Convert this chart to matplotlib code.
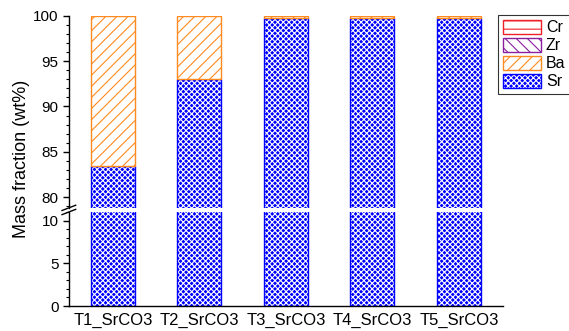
import matplotlib
matplotlib.use("Agg")
import matplotlib.pyplot as plt
from matplotlib.patches import Patch
from matplotlib.ticker import MultipleLocator

plt.rcParams["font.family"] = ["Liberation Sans", "DejaVu Sans"]
plt.rcParams["hatch.linewidth"] = 0.8

samples = ["T1_SrCO3", "T2_SrCO3", "T3_SrCO3", "T4_SrCO3", "T5_SrCO3"]
sr = [83.4, 93.0, 99.78, 99.78, 99.78]
ba = [16.58, 6.98, 0.2, 0.2, 0.2]
zr = [0.01, 0.01, 0.01, 0.01, 0.01]
cr = [0.01, 0.01, 0.01, 0.01, 0.01]

c_sr = "#0000ff"
c_ba = "#ff8a1f"
c_zr = "#8a1fa0"
c_cr = "#f0202a"

x = list(range(len(samples)))
w = 0.51

fig = plt.figure(figsize=(5.69, 3.31), dpi=100)
ax_top = fig.add_axes([0.121, 0.372, 0.763, 0.580])
ax_bot = fig.add_axes([0.121, 0.0755, 0.763, 0.284])


def draw(ax):
    # Sr: blue with fine white cross-hatch
    ax.bar(x, sr, w, color=c_sr, edgecolor="white", hatch="xxxxxx", lw=0)
    ax.bar(x, sr, w, fill=False, edgecolor=c_sr, lw=1.0)
    bot = list(sr)
    ax.bar(x, zr, w, bottom=[b + v for b, v in zip(bot, ba)],
           color="white", edgecolor=c_zr, hatch="\\\\\\", lw=0)
    ax.bar(x, cr, w, bottom=[b + v + z for b, v, z in zip(bot, ba, zr)],
           color="white", edgecolor=c_cr, hatch="--", lw=0)
    ax.bar(x, ba, w, bottom=bot, color="white", edgecolor=c_ba,
           hatch="///", lw=1.0)
    ax.set_xlim(-0.51, 4.51)
    for s in ("top", "right"):
        ax.spines[s].set_visible(False)
    ax.tick_params(axis="y", direction="out", labelsize=11, length=4,
                   width=1)
    ax.tick_params(axis="y", which="minor", direction="out", length=2.5,
                   width=0.8)
    ax.spines["left"].set_linewidth(1.0)
    ax.spines["bottom"].set_linewidth(1.0)


draw(ax_top)
draw(ax_bot)

ax_top.set_ylim(78.8, 100)
ax_top.yaxis.set_major_locator(MultipleLocator(5))
ax_top.yaxis.set_minor_locator(MultipleLocator(1))
ax_top.spines["bottom"].set_visible(False)
ax_top.set_xticks([])

ax_bot.set_ylim(0, 11)
ax_bot.yaxis.set_major_locator(MultipleLocator(5))
ax_bot.yaxis.set_minor_locator(MultipleLocator(1))
ax_bot.set_xticks(x)
ax_bot.set_xticklabels(samples, fontsize=12)
ax_bot.tick_params(axis="x", length=0, pad=5)

# break marks on the left spine
bx = 0.121
for yb in (0.372, 0.3595):
    fig.add_artist(plt.Line2D([bx - 0.012, bx + 0.012],
                              [yb - 0.008, yb + 0.008], color="black",
                              lw=1.0))

fig.text(0.038, 0.52, "Mass fraction (wt%)", rotation=90, fontsize=13,
         ha="center", va="center")

sr_handle = (Patch(facecolor=c_sr, edgecolor="white", hatch="xxxxxx", lw=0),
             Patch(fill=False, edgecolor=c_sr, lw=1.0))
handles = [
    Patch(facecolor="white", edgecolor=c_cr, hatch="--"),
    Patch(facecolor="white", edgecolor=c_zr, hatch="\\\\\\"),
    Patch(facecolor="white", edgecolor=c_ba, hatch="///"),
    sr_handle,
]
leg = fig.legend(handles=handles, labels=["Cr", "Zr", "Ba", "Sr"],
                 loc="upper left", bbox_to_anchor=(0.875, 0.955),
                 fontsize=11.5, frameon=True, fancybox=False,
                 handlelength=2.4, handleheight=1.0, handletextpad=0.3,
                 borderpad=0.3, labelspacing=0.15, borderaxespad=0)
leg.get_frame().set_edgecolor("black")
leg.get_frame().set_linewidth(0.8)

fig.savefig("out.png", dpi=100)
